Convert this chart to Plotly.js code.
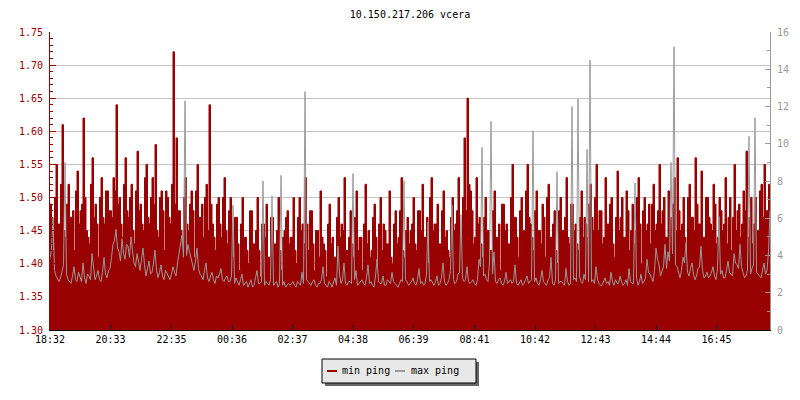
<!DOCTYPE html>
<html><head><meta charset="utf-8">
<script src="https://cdn.plot.ly/plotly-3.0.1.min.js"></script>
<style>html,body{margin:0;padding:0;background:#fff}#chart{width:800px;height:400px}</style>
</head><body><div id="chart"></div>
<script>
const titleText = "10.150.217.206 vcera";
const seriesNames = ["min ping", "max ping"];
const sampleStepMinutes = 3;
const tickMinutes = [0, 121, 243, 364, 485, 606, 727, 849, 970, 1091, 1212, 1333];
const tickLabels = ["18:32", "20:33", "22:35", "00:36", "02:37", "04:38", "06:39", "08:41", "10:42", "12:43", "14:44", "16:45"];

const minPing = [
  1.49,1.47,1.42,1.50,1.55,1.46,1.46,1.52,1.61,1.45,1.44,1.49,1.52,1.47,1.47,1.48,1.42,1.51,1.54,1.46,1.48,1.49,1.62,1.50,1.45,1.44,1.43,1.52,1.56,1.47,1.49,1.46,1.41,1.50,1.53,1.47,1.46,1.51,1.51,1.48,
  1.48,1.47,1.53,1.51,1.64,1.49,1.50,1.46,1.44,1.52,1.56,1.48,1.47,1.50,1.52,1.45,1.43,1.51,1.57,1.48,1.49,1.46,1.45,1.53,1.55,1.47,1.46,1.50,1.53,1.49,1.58,1.45,1.44,1.50,1.51,1.48,1.42,1.51,1.50,1.47,
  1.46,1.52,1.72,1.49,1.59,1.48,1.48,1.45,1.43,1.50,1.53,1.46,1.45,1.49,1.51,1.48,1.41,1.51,1.55,1.47,1.47,1.49,1.44,1.50,1.52,1.45,1.64,1.49,1.46,1.44,1.42,1.49,1.50,1.46,1.44,1.50,1.53,1.45,1.43,1.48,
  1.50,1.45,1.41,1.47,1.47,1.43,1.39,1.46,1.50,1.44,1.44,1.42,1.40,1.48,1.48,1.43,1.43,1.45,1.50,1.42,1.38,1.46,1.46,1.44,1.49,1.41,1.41,1.47,1.47,1.43,1.43,1.45,1.50,1.42,1.39,1.44,1.45,1.47,1.48,1.43,
  1.44,1.44,1.50,1.42,1.40,1.47,1.50,1.45,1.46,1.43,1.53,1.46,1.42,1.48,1.48,1.43,1.39,1.45,1.45,1.41,1.51,1.44,1.43,1.42,1.38,1.46,1.49,1.43,1.44,1.41,1.41,1.47,1.50,1.44,1.46,1.45,1.53,1.42,1.42,1.44,
  1.48,1.43,1.41,1.47,1.51,1.42,1.44,1.44,1.39,1.46,1.52,1.43,1.45,1.41,1.42,1.47,1.49,1.44,1.40,1.46,1.50,1.42,1.46,1.45,1.43,1.43,1.51,1.41,1.40,1.46,1.48,1.43,1.44,1.48,1.53,1.42,1.41,1.45,1.47,1.43,
  1.45,1.46,1.50,1.43,1.42,1.48,1.48,1.45,1.52,1.44,1.44,1.47,1.40,1.50,1.53,1.45,1.46,1.46,1.49,1.43,1.43,1.48,1.51,1.44,1.45,1.42,1.41,1.47,1.50,1.45,1.46,1.48,1.53,1.44,1.44,1.50,1.59,1.48,1.65,1.52,
  1.51,1.48,1.43,1.44,1.53,1.46,1.47,1.43,1.41,1.47,1.50,1.45,1.45,1.42,1.42,1.48,1.51,1.44,1.44,1.46,1.39,1.49,1.49,1.45,1.46,1.43,1.43,1.50,1.55,1.47,1.47,1.44,1.41,1.48,1.50,1.45,1.45,1.51,1.55,1.47,
  1.46,1.44,1.42,1.48,1.51,1.45,1.45,1.43,1.49,1.47,1.41,1.50,1.52,1.44,1.44,1.46,1.48,1.42,1.40,1.48,1.50,1.45,1.45,1.47,1.53,1.44,1.43,1.49,1.49,1.45,1.46,1.43,1.42,1.47,1.51,1.44,1.47,1.46,1.44,1.49,
  1.52,1.47,1.45,1.50,1.55,1.45,1.48,1.48,1.43,1.44,1.53,1.46,1.46,1.49,1.50,1.43,1.41,1.47,1.54,1.45,1.47,1.50,1.44,1.44,1.51,1.48,1.42,1.45,1.49,1.43,1.45,1.50,1.53,1.46,1.40,1.48,1.50,1.45,1.46,1.49,
  1.43,1.49,1.52,1.45,1.46,1.48,1.55,1.46,1.48,1.50,1.44,1.44,1.51,1.47,1.47,1.49,1.53,1.45,1.56,1.48,1.45,1.46,1.50,1.44,1.42,1.50,1.52,1.47,1.47,1.45,1.56,1.49,1.46,1.46,1.54,1.44,1.44,1.50,1.50,1.47,
  1.46,1.45,1.52,1.49,1.43,1.44,1.50,1.48,1.45,1.46,1.53,1.43,1.47,1.50,1.42,1.47,1.55,1.45,1.48,1.49,1.44,1.46,1.51,1.48,1.57,1.44,1.47,1.50,1.43,1.46,1.50,1.45,1.45,1.51,1.52,1.47,1.55,1.48,1.48,1.52,
  1.46
];

const maxPing = [
  3.8,4.4,6.0,3.2,2.9,2.7,2.6,2.8,3.1,3.5,9.0,3.0,2.7,2.6,2.5,2.9,3.4,2.7,2.6,3.1,2.8,2.6,3.6,2.8,2.5,3.0,2.9,2.7,4.1,3.3,2.7,2.9,3.2,2.7,2.6,3.1,3.9,3.0,2.8,3.2,
  3.3,3.9,4.6,4.8,5.4,4.4,4.2,3.7,4.9,4.1,3.8,4.6,4.5,3.9,5.0,4.3,3.6,3.4,4.1,3.7,3.2,3.8,4.4,3.5,2.9,3.3,3.7,3.0,3.1,3.6,4.3,3.2,2.8,3.1,3.5,2.9,2.7,3.2,3.0,2.8,
  2.7,3.0,3.4,3.1,2.9,3.6,4.2,4.5,5.1,3.9,12.3,4.0,4.6,4.2,3.8,3.5,3.2,3.7,4.4,3.3,3.0,2.9,2.7,3.2,3.6,2.8,2.6,2.9,3.1,2.7,2.5,2.9,2.8,3.0,3.3,2.7,2.6,2.8,2.9,2.6,
  2.6,2.9,6.7,2.5,2.8,2.6,2.4,2.7,3.0,2.4,2.5,2.6,2.3,2.5,2.7,2.3,2.4,2.8,3.2,2.5,2.5,2.6,8.0,2.4,2.6,2.5,2.4,2.7,7.2,2.4,2.5,2.6,2.3,2.5,8.3,2.4,2.6,2.3,2.4,2.5,
  2.4,2.5,2.6,2.4,2.3,2.6,2.5,2.4,3.1,2.5,12.8,2.7,2.6,2.5,2.4,2.6,2.7,2.4,2.3,2.5,2.5,2.7,3.4,2.5,2.4,2.3,2.6,2.5,2.3,2.6,2.8,2.4,4.5,3.0,2.5,2.7,3.6,2.5,2.4,2.6,
  2.6,2.5,8.4,2.7,3.2,2.4,2.5,2.6,2.7,2.5,2.4,2.8,3.5,2.5,2.6,2.4,2.3,2.9,3.8,2.6,2.5,2.5,2.9,2.4,2.4,2.7,2.6,2.5,3.1,2.6,2.5,2.4,2.3,2.5,2.7,2.6,8.0,2.7,2.6,2.4,
  2.5,2.6,2.8,2.5,2.4,2.7,3.3,2.5,2.6,2.4,2.5,3.0,5.8,2.6,2.7,2.5,2.4,2.6,2.9,2.4,2.5,2.8,3.6,2.6,2.4,2.5,2.7,3.2,6.7,2.7,2.5,2.6,3.0,3.1,6.2,2.8,2.6,2.7,3.4,2.6,
  2.5,2.6,2.7,2.5,2.4,2.7,3.8,3.4,9.8,2.9,3.0,2.7,2.6,3.6,11.2,3.0,4.2,2.6,2.5,2.7,2.8,2.5,2.4,2.6,3.1,2.5,2.6,2.7,2.5,2.6,3.5,2.5,2.4,2.6,2.7,2.4,2.5,2.7,2.9,2.5,
  2.6,2.7,10.7,2.6,2.8,2.5,2.4,2.7,3.2,2.6,2.5,2.4,2.7,2.8,3.9,2.5,2.4,2.7,8.5,2.5,2.6,2.6,2.5,2.4,3.3,2.6,2.4,2.5,12.0,2.7,2.8,2.6,12.4,2.9,2.6,2.5,3.0,2.7,9.7,2.6,
  14.5,2.6,2.7,2.5,3.4,2.7,2.5,2.4,2.4,2.6,2.8,2.5,2.6,2.4,3.1,2.6,2.4,2.7,2.5,2.5,2.9,2.6,2.4,2.5,2.7,2.4,3.3,2.6,2.5,2.5,7.9,2.8,2.4,2.6,3.0,2.5,2.6,2.8,3.8,3.1,
  3.0,2.8,2.6,3.2,4.4,3.8,3.5,2.9,3.1,3.4,4.6,3.3,4.2,3.7,9.0,4.1,15.2,3.5,3.4,3.0,2.8,3.2,3.9,3.6,4.7,3.1,2.9,3.3,3.6,3.0,2.7,2.9,3.3,3.4,4.5,3.2,2.8,2.9,3.1,2.8,
  2.9,3.1,3.4,2.9,2.7,3.3,6.1,3.0,3.2,2.8,2.8,3.2,3.7,3.1,3.0,2.9,4.1,3.6,3.5,3.3,4.6,3.4,3.1,2.8,2.9,3.2,10.4,3.0,3.3,3.5,11.4,3.1,3.0,2.9,2.8,3.2,3.6,3.0,3.2,4.2,
  6.4
];

const times = minPing.map((_, i) => i * sampleStepMinutes);

const MONO = "DejaVu Sans Mono, Liberation Mono, monospace";
const RED = "#990000";
const GREY = "#999999";

// pixel -> paper helpers for the hand-drawn legend box
const PL = 50, PR = 770, PT = 32, PB = 330;
const px = v => (v - PL) / (PR - PL);
const py = v => (PB - v) / (PB - PT);

const traces = [
  {
    x: times, y: minPing, name: seriesNames[0], type: "scatter", mode: "lines",
    line: {shape: "hv", color: RED, width: 1}, fill: "tozeroy", fillcolor: RED,
    yaxis: "y", hoverinfo: "skip", showlegend: false
  },
  {
    x: times, y: maxPing, name: seriesNames[1], type: "scatter", mode: "lines",
    line: {shape: "linear", color: GREY, width: 1},
    yaxis: "y2", hoverinfo: "skip", showlegend: false
  }
];

const layout = {
  width: 800, height: 400,
  margin: {l: PL, r: 800 - PR, t: PT, b: 400 - PB, pad: 0},
  paper_bgcolor: "#ffffff", plot_bgcolor: "#ffffff",
  showlegend: false,
  font: {family: MONO, size: 10, color: "#000"},
  title: {text: titleText, font: {family: MONO, size: 10, color: "#000"},
          x: 0.5, xref: "paper", xanchor: "center", y: 1 - 14 / 400, yref: "container", yanchor: "middle"},
  xaxis: {
    range: [0, 1440], tickmode: "array", tickvals: tickMinutes, ticktext: tickLabels,
    ticks: "inside", ticklen: 5, tickcolor: "#000", tickwidth: 1,
    showline: true, linecolor: "#000", linewidth: 1, showgrid: false, zeroline: false,
    tickfont: {family: MONO, size: 10, color: "#000"}, fixedrange: true
  },
  yaxis: {
    range: [1.30, 1.75], tickmode: "linear", tick0: 1.30, dtick: 0.05, tickformat: ".2f",
    ticks: "inside", ticklen: 6, tickcolor: RED, tickwidth: 1, ticklabelstandoff: 4,
    showline: true, linecolor: RED, linewidth: 1,
    showgrid: true, gridcolor: "#c4c4c4", gridwidth: 1, zeroline: false,
    tickfont: {family: MONO, size: 10, color: RED},
    minor: {dtick: 0.01, tick0: 1.30, ticks: "inside", ticklen: 3, tickcolor: RED, showgrid: false},
    fixedrange: true
  },
  yaxis2: {
    overlaying: "y", side: "right", anchor: "x",
    range: [0, 16], tickmode: "linear", tick0: 0, dtick: 2,
    ticks: "inside", ticklen: 5, tickcolor: GREY, tickwidth: 1, ticklabelstandoff: 4,
    showline: true, linecolor: GREY, linewidth: 1, showgrid: false, zeroline: false,
    tickfont: {family: MONO, size: 10, color: GREY},
    minor: {dtick: 1, tick0: 0, ticks: "inside", ticklen: 3, tickcolor: GREY, showgrid: false},
    fixedrange: true
  },
  shapes: [
    {type: "rect", xref: "paper", yref: "paper", x0: px(325), x1: px(479), y0: py(386), y1: py(362),
     fillcolor: "#666666", line: {width: 0}, layer: "above"},
    {type: "rect", xref: "paper", yref: "paper", x0: px(322), x1: px(476), y0: py(383), y1: py(359),
     fillcolor: "#e8e8e8", line: {color: "#000", width: 1}, layer: "above"},
    {type: "line", xref: "paper", yref: "paper", x0: px(327), x1: px(337), y0: py(371), y1: py(371),
     line: {color: RED, width: 2}, layer: "above"},
    {type: "line", xref: "paper", yref: "paper", x0: px(395), x1: px(405), y0: py(371), y1: py(371),
     line: {color: GREY, width: 2}, layer: "above"}
  ],
  annotations: [
    {text: seriesNames[0], xref: "paper", yref: "paper", x: px(340), y: py(370), xanchor: "left", yanchor: "middle",
     showarrow: false, font: {family: MONO, size: 10, color: "#000"}},
    {text: seriesNames[1], xref: "paper", yref: "paper", x: px(409), y: py(370), xanchor: "left", yanchor: "middle",
     showarrow: false, font: {family: MONO, size: 10, color: "#000"}}
  ]
};

Plotly.newPlot("chart", traces, layout, {staticPlot: true, displayModeBar: false});
</script>
</body></html>
